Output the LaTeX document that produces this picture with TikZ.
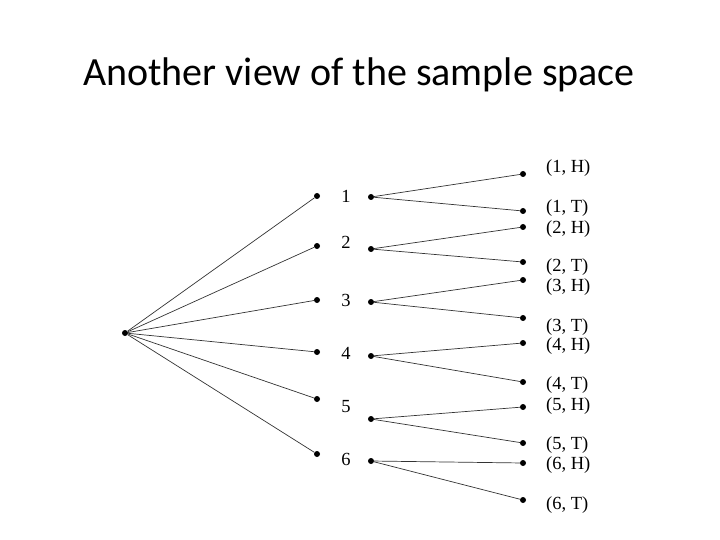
\documentclass[tikz,border=0pt]{standalone}
\usepackage{fontspec}
\setmainfont{Liberation Serif}
\newfontfamily\titlefont{Carlito}
\begin{document}
\begin{tikzpicture}[x=1pt,y=-1pt,
  dot/.style={circle,fill=black,inner sep=0pt,minimum size=6pt},
  lbl/.style={inner sep=0pt,font=\fontsize{18.5}{18}\selectfont},
  edge/.style={draw=black!80,line width=0.7pt}]
\useasboundingbox (0,0) rectangle (720,540);
\node[font=\titlefont\fontsize{40}{44}\selectfont] (title) at (359,75) {Another view of the sample space};
\node[dot] (r) at (125,333) {};
\foreach \i/\ya/\yb/\yl in {1/196/197/196,2/246/249/242,3/300/302/300,4/352/356/353,5/399/419/407,6/454/461/459}{
  \node[dot] (a\i) at (317,\ya) {};
  \node[dot] (b\i) at (371,\yb) {};
  \node[lbl] (n\i) at (346,\yl) {\i};
  \draw[edge] (r) -- (a\i);
}
\foreach \i/\yh/\yt/\lh/\lt in {1/174/211/168/208,2/227/262/229/267,3/280/318/287/327,4/343/382/346/385,5/407/443/406/445,6/463/500/465/505}{
  \node[dot] (h\i) at (523,\yh) {};
  \node[dot] (t\i) at (523,\yt) {};
  \node[lbl,anchor=west] (lh\i) at (546,\lh) {(\i, H)};
  \node[lbl,anchor=west] (lt\i) at (546,\lt) {(\i, T)};
  \draw[edge] (b\i) -- (h\i);
  \draw[edge] (b\i) -- (t\i);
}
\end{tikzpicture}
\end{document}
